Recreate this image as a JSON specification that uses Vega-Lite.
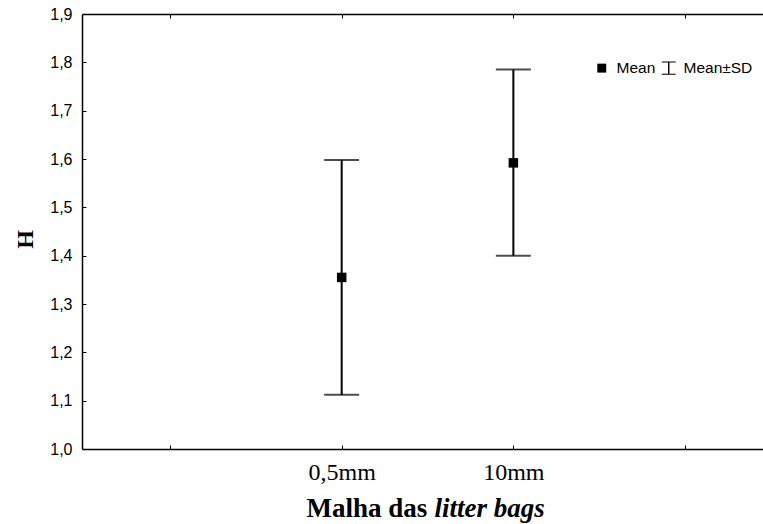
{
  "$schema": "https://vega.github.io/schema/vega-lite/v6.json",
  "autosize": "none",
  "width": 681,
  "height": 435,
  "padding": {"left": 82, "top": 14, "right": 0, "bottom": 75},
  "background": "white",
  "config": {
    "view": {"stroke": null},
    "axis": {"grid": false, "domainColor": "black", "domainWidth": 1.5, "tickColor": "black", "tickWidth": 1, "labelColor": "black", "titleColor": "black"},
    "axisY": {"labelFont": "Liberation Sans", "labelFontSize": 16, "labelPadding": 14}
  },
  "data": {
    "values": [
      {"malha": "0,5mm", "pos": 1, "kind": "Mean", "mean": 1.355, "lo": 1.112, "hi": 1.598},
      {"malha": "10mm", "pos": 2, "kind": "Mean", "mean": 1.592, "lo": 1.400, "hi": 1.785}
    ]
  },
  "layer": [
    {
      "mark": {"type": "rule", "color": "black", "strokeWidth": 2},
      "encoding": {
        "x": {
          "field": "pos", "type": "quantitative",
          "scale": {"domain": [-0.5125, 3.454], "nice": false, "zero": false},
          "axis": {
            "orient": "bottom", "values": [0, 1, 2, 3], "tickSize": -4,
            "labelExpr": "datum.value == 1 ? '0,5mm' : datum.value == 2 ? '10mm' : ''",
            "labelFont": "Liberation Serif", "labelFontSize": 24, "labelPadding": 15,
            "title": "Malha das", "titleFont": "Liberation Serif", "titleFontSize": 27, "titleFontWeight": "bold",
            "titleX": 224, "titleY": 67, "titleAlign": "left", "titleBaseline": "alphabetic", "titleAnchor": null
          }
        },
        "y": {
          "field": "lo", "type": "quantitative",
          "scale": {"domain": [1, 1.9], "nice": false, "zero": false},
          "axis": {
            "values": [1, 1.1, 1.2, 1.3, 1.4, 1.5, 1.6, 1.7, 1.8, 1.9], "tickSize": -4,
            "labelExpr": "replace(format(datum.value, '.1f'), '.', ',')",
            "title": "H", "titleFont": "Liberation Serif", "titleFontSize": 24, "titleFontWeight": "bold",
            "titleAngle": -90, "titleX": -50, "titleY": 225, "titleAlign": "center", "titleBaseline": "alphabetic"
          }
        },
        "y2": {"field": "hi"}
      }
    },
    {
      "mark": {"type": "tick", "orient": "horizontal", "color": "black", "thickness": 2, "size": 35},
      "encoding": {
        "x": {"field": "pos", "type": "quantitative", "axis": null},
        "y": {"field": "lo", "type": "quantitative"}
      }
    },
    {
      "mark": {"type": "tick", "orient": "horizontal", "color": "black", "thickness": 2, "size": 35},
      "encoding": {
        "x": {"field": "pos", "type": "quantitative", "axis": null},
        "y": {"field": "hi", "type": "quantitative"}
      }
    },
    {
      "mark": {"type": "point", "filled": true, "opacity": 1, "color": "black", "size": 220},
      "encoding": {
        "x": {"field": "pos", "type": "quantitative", "axis": null},
        "y": {"field": "mean", "type": "quantitative"},
        "shape": {
          "field": "kind", "type": "nominal",
          "scale": {
            "domain": ["Mean", "Mean±SD"],
            "range": [
              "M-0.64,-0.64H0.64V0.64H-0.64Z",
              "M-1,-0.93H1V-0.8H0.1V0.8H1V0.93H-1V0.8H-0.1V-0.8H-1Z"
            ]
          },
          "legend": {
            "orient": "none", "legendX": 512, "legendY": 46, "direction": "horizontal", "title": null,
            "symbolSize": 196, "symbolFillColor": "black", "symbolStrokeColor": "black", "symbolStrokeWidth": 0,
            "labelFont": "Liberation Sans", "labelFontSize": 15.5, "labelColor": "black", "labelOffset": 7, "columnPadding": 5,
            "encode": {
              "symbols": {"update": {"fill": {"value": "black"}, "stroke": {"value": "transparent"}, "opacity": {"value": 1}}}
            }
          }
        }
      }
    },
    {
      "mark": {"type": "point", "opacity": 0},
      "encoding": {
        "x": {
          "field": "pos", "type": "quantitative",
          "axis": {
            "orient": "top", "values": [0, 1, 2, 3], "tickSize": -4, "labels": false,
            "title": "litter bags", "titleFont": "Liberation Serif", "titleFontSize": 27, "titleFontWeight": "bold", "titleFontStyle": "italic",
            "titleX": 352, "titleY": 502, "titleAlign": "left", "titleBaseline": "alphabetic", "titleAnchor": null, "titleAngle": 0
          }
        },
        "y": {"field": "mean", "type": "quantitative"}
      }
    }
  ],
  "resolve": {"axis": {"x": "independent"}}
}
